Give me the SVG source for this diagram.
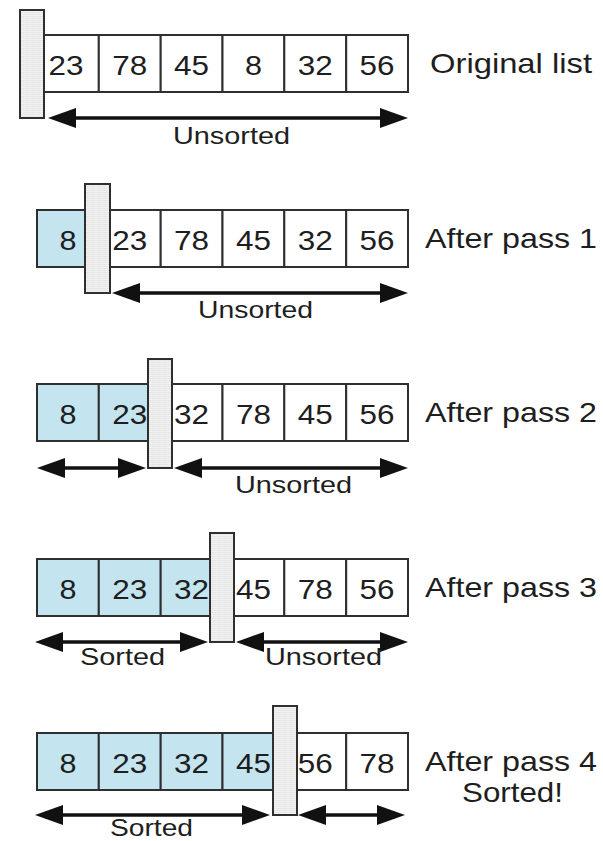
<svg xmlns="http://www.w3.org/2000/svg" width="603" height="841" viewBox="0 0 603 841">
<defs>
<style>
.cell{fill:#ffffff;stroke:#2f2f2f;stroke-width:2}
.blue{fill:#c4e5ef;stroke:#2f2f2f;stroke-width:2}
.wall{fill:url(#brick);stroke:#2f2f2f;stroke-width:2}
.num{font-family:"Liberation Sans",Arial,sans-serif;font-size:28px;fill:#1e1e1e;text-anchor:middle}
.lbl{font-family:"Liberation Sans",Arial,sans-serif;font-size:28px;fill:#1e1e1e}
.sub{font-family:"Liberation Sans",Arial,sans-serif;font-size:24px;fill:#1e1e1e}
.arr{stroke:#111;stroke-width:3.5;fill:none;marker-start:url(#ah);marker-end:url(#ah)}
</style>
<pattern id="brick" width="6" height="4" patternUnits="userSpaceOnUse">
<rect width="6" height="4" fill="#f1f1f1"/>
<path d="M0,0.5H6M3,0.5V2.5M0,2.5H6" stroke="#e0e0e0" stroke-width="0.6" fill="none"/>
</pattern>
<marker id="ah" markerUnits="userSpaceOnUse" markerWidth="28" markerHeight="20" viewBox="0 0 28 20" refX="16" refY="10" orient="auto-start-reverse">
<path d="M0,0 L28,10 L0,20 Z" fill="#111"/>
</marker>
</defs>
<rect width="603" height="841" fill="#ffffff"/>

<g id="connectors">
<line class="arr" x1="60" y1="118" x2="396" y2="118"/>
<line class="arr" x1="124" y1="293" x2="396" y2="293"/>
<line class="arr" x1="49" y1="468" x2="134" y2="468"/>
<line class="arr" x1="186" y1="468" x2="396" y2="468"/>
<line class="arr" x1="47" y1="642" x2="196" y2="642"/>
<line class="arr" x1="248" y1="642" x2="396" y2="642"/>
<line class="arr" x1="47" y1="815" x2="258" y2="815"/>
<line class="arr" x1="310" y1="815" x2="393" y2="815"/>
</g>

<g id="row1">
<rect class="cell" x="37" y="35" width="61.8" height="57"/>
<rect class="cell" x="98.8" y="35" width="61.9" height="57"/>
<rect class="cell" x="160.7" y="35" width="61.8" height="57"/>
<rect class="cell" x="222.5" y="35" width="61.8" height="57"/>
<rect class="cell" x="284.3" y="35" width="61.9" height="57"/>
<rect class="cell" x="346.2" y="35" width="61.8" height="57"/>
<text class="num" x="66" y="75" textLength="35" lengthAdjust="spacingAndGlyphs">23</text>
<text class="num" x="129.8" y="75" textLength="35" lengthAdjust="spacingAndGlyphs">78</text>
<text class="num" x="191.6" y="75" textLength="35" lengthAdjust="spacingAndGlyphs">45</text>
<text class="num" x="253.4" y="75" textLength="17" lengthAdjust="spacingAndGlyphs">8</text>
<text class="num" x="315.3" y="75" textLength="35" lengthAdjust="spacingAndGlyphs">32</text>
<text class="num" x="377.1" y="75" textLength="35" lengthAdjust="spacingAndGlyphs">56</text>
<rect class="wall" x="20" y="10" width="24" height="108"/>
<text class="lbl" x="430" y="73" textLength="162" lengthAdjust="spacingAndGlyphs">Original list</text>
<text class="sub" x="173" y="144" textLength="117" lengthAdjust="spacingAndGlyphs">Unsorted</text>
</g>

<g id="row2">
<rect class="blue" x="37" y="210" width="61.8" height="57"/>
<rect class="cell" x="98.8" y="210" width="61.9" height="57"/>
<rect class="cell" x="160.7" y="210" width="61.8" height="57"/>
<rect class="cell" x="222.5" y="210" width="61.8" height="57"/>
<rect class="cell" x="284.3" y="210" width="61.9" height="57"/>
<rect class="cell" x="346.2" y="210" width="61.8" height="57"/>
<text class="num" x="68" y="250" textLength="17" lengthAdjust="spacingAndGlyphs">8</text>
<text class="num" x="129.8" y="250" textLength="35" lengthAdjust="spacingAndGlyphs">23</text>
<text class="num" x="191.6" y="250" textLength="35" lengthAdjust="spacingAndGlyphs">78</text>
<text class="num" x="253.4" y="250" textLength="35" lengthAdjust="spacingAndGlyphs">45</text>
<text class="num" x="315.3" y="250" textLength="35" lengthAdjust="spacingAndGlyphs">32</text>
<text class="num" x="377.1" y="250" textLength="35" lengthAdjust="spacingAndGlyphs">56</text>
<rect class="wall" x="85" y="184" width="25" height="109"/>
<text class="lbl" x="425" y="248" textLength="172" lengthAdjust="spacingAndGlyphs">After pass 1</text>
<text class="sub" x="198" y="318" textLength="115" lengthAdjust="spacingAndGlyphs">Unsorted</text>
</g>

<g id="row3">
<rect class="blue" x="37" y="384" width="61.8" height="57"/>
<rect class="blue" x="98.8" y="384" width="61.9" height="57"/>
<rect class="cell" x="160.7" y="384" width="61.8" height="57"/>
<rect class="cell" x="222.5" y="384" width="61.8" height="57"/>
<rect class="cell" x="284.3" y="384" width="61.9" height="57"/>
<rect class="cell" x="346.2" y="384" width="61.8" height="57"/>
<text class="num" x="68" y="424" textLength="17" lengthAdjust="spacingAndGlyphs">8</text>
<text class="num" x="129.8" y="424" textLength="35" lengthAdjust="spacingAndGlyphs">23</text>
<text class="num" x="191.6" y="424" textLength="35" lengthAdjust="spacingAndGlyphs">32</text>
<text class="num" x="253.4" y="424" textLength="35" lengthAdjust="spacingAndGlyphs">78</text>
<text class="num" x="315.3" y="424" textLength="35" lengthAdjust="spacingAndGlyphs">45</text>
<text class="num" x="377.1" y="424" textLength="35" lengthAdjust="spacingAndGlyphs">56</text>
<rect class="wall" x="148" y="359" width="24" height="109"/>
<text class="lbl" x="425" y="422" textLength="172" lengthAdjust="spacingAndGlyphs">After pass 2</text>
<text class="sub" x="235" y="493" textLength="117" lengthAdjust="spacingAndGlyphs">Unsorted</text>
</g>

<g id="row4">
<rect class="blue" x="37" y="559" width="61.8" height="57"/>
<rect class="blue" x="98.8" y="559" width="61.9" height="57"/>
<rect class="blue" x="160.7" y="559" width="61.8" height="57"/>
<rect class="cell" x="222.5" y="559" width="61.8" height="57"/>
<rect class="cell" x="284.3" y="559" width="61.9" height="57"/>
<rect class="cell" x="346.2" y="559" width="61.8" height="57"/>
<text class="num" x="68" y="599" textLength="17" lengthAdjust="spacingAndGlyphs">8</text>
<text class="num" x="129.8" y="599" textLength="35" lengthAdjust="spacingAndGlyphs">23</text>
<text class="num" x="191.6" y="599" textLength="35" lengthAdjust="spacingAndGlyphs">32</text>
<text class="num" x="253.4" y="599" textLength="35" lengthAdjust="spacingAndGlyphs">45</text>
<text class="num" x="315.3" y="599" textLength="35" lengthAdjust="spacingAndGlyphs">78</text>
<text class="num" x="377.1" y="599" textLength="35" lengthAdjust="spacingAndGlyphs">56</text>
<rect class="wall" x="210" y="533" width="24" height="109"/>
<text class="lbl" x="425" y="597" textLength="172" lengthAdjust="spacingAndGlyphs">After pass 3</text>
<text class="sub" x="80" y="665" textLength="85" lengthAdjust="spacingAndGlyphs">Sorted</text>
<text class="sub" x="265" y="665" textLength="117" lengthAdjust="spacingAndGlyphs">Unsorted</text>
</g>

<g id="row5">
<rect class="blue" x="37" y="733" width="61.8" height="57"/>
<rect class="blue" x="98.8" y="733" width="61.9" height="57"/>
<rect class="blue" x="160.7" y="733" width="61.8" height="57"/>
<rect class="blue" x="222.5" y="733" width="61.8" height="57"/>
<rect class="cell" x="284.3" y="733" width="61.9" height="57"/>
<rect class="cell" x="346.2" y="733" width="61.8" height="57"/>
<text class="num" x="68" y="773" textLength="17" lengthAdjust="spacingAndGlyphs">8</text>
<text class="num" x="129.8" y="773" textLength="35" lengthAdjust="spacingAndGlyphs">23</text>
<text class="num" x="191.6" y="773" textLength="35" lengthAdjust="spacingAndGlyphs">32</text>
<text class="num" x="253.4" y="773" textLength="35" lengthAdjust="spacingAndGlyphs">45</text>
<text class="num" x="315.3" y="773" textLength="35" lengthAdjust="spacingAndGlyphs">56</text>
<text class="num" x="377.1" y="773" textLength="35" lengthAdjust="spacingAndGlyphs">78</text>
<rect class="wall" x="273" y="706" width="24" height="109"/>
<text class="lbl" x="425" y="771" textLength="172" lengthAdjust="spacingAndGlyphs">After pass 4</text>
<text class="lbl" x="462" y="802" textLength="101" lengthAdjust="spacingAndGlyphs">Sorted!</text>
<text class="sub" x="110" y="836" textLength="83" lengthAdjust="spacingAndGlyphs">Sorted</text>
</g>
</svg>
